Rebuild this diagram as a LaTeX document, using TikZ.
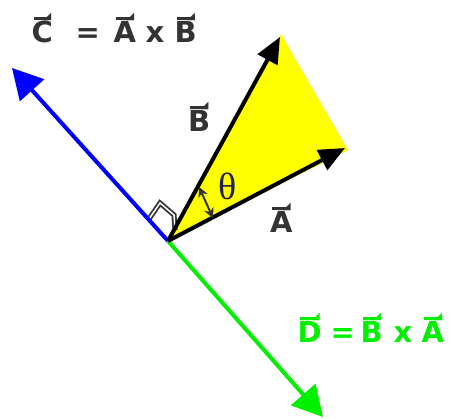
\documentclass[tikz,border=0pt]{standalone}
\usepackage{fontspec}
\usepackage{graphicx}
\setmainfont{DejaVu Sans}
\newfontfamily\arrowfont{DejaVu Sans}
\newfontfamily\thetafont{Liberation Serif}
\usetikzlibrary{arrows.meta}
\definecolor{txtgray}{HTML}{333333}
\definecolor{vgreen}{HTML}{00F000}
\definecolor{vblue}{HTML}{0000FF}
\definecolor{vyellow}{HTML}{FFFF00}
\definecolor{thetablue}{HTML}{20204A}
\newsavebox\vecbox
\newcommand\vecl[1]{\leavevmode\sbox\vecbox{#1}\rlap{\hbox to\wd\vecbox{\hss\raisebox{0.8em}{\rule{0.8\wd\vecbox}{2.8pt}\llap{\raisebox{0.6pt}{\fontsize{10}{10}\selectfont\arrowfont ◢}\kern-0.5pt}}\hss}}\usebox\vecbox}
\newcommand\at[2]{\rlap{\hspace{#1pt}#2}}
\begin{document}
\begin{tikzpicture}[x=1pt,y=-1pt,
  vecline/.style={line width=4pt},
  bighead/.style={-{Triangle[length=30pt,width=32pt]}},
  blackhead/.style={-{Triangle[length=26pt,width=22pt]}},
  lbl/.style={font=\fontsize{29}{29}\selectfont\bfseries, inner sep=0pt, anchor=base west},
  marker/.style={draw=txtgray, line width=1.8pt, double=white, double distance=1.5pt}]
\useasboundingbox (0,0) rectangle (450,419);
\coordinate (O) at (168,241);
\coordinate (Atip) at (345,148);
\coordinate (Btip) at (280,37);
\coordinate (Ctip) at (12,68);
\coordinate (Dtip) at (323,417);
\coordinate (TB) at (199,187);
\coordinate (TA) at (213,218);
\coordinate (M1) at (149,219);
\coordinate (M2) at (160,203);
\coordinate (M3) at (174,215);
\coordinate (M4) at (175,230);
\fill[vyellow] (O) -- (281,34) -- (348,150) -- cycle;
\draw[marker] (M1) -- (M2) -- (M3) -- (M4);
\draw[vecline, vblue, bighead] (O) -- (Ctip);
\draw[vecline, vgreen, bighead] (O) -- (Dtip);
\draw[vecline, black, blackhead] (O) -- (Atip);
\draw[vecline, black, blackhead] (O) -- (Btip);
\draw[txtgray, line width=2pt, {Stealth[length=10pt,width=10pt]}-{Stealth[length=10pt,width=10pt]}] (TB) -- (TA);
\node[text=thetablue, font=\thetafont\fontsize{38}{38}\selectfont, inner sep=0pt] (theta) at (228,186) {θ};
\node[lbl, text=txtgray] (labB) at (188,132) {\vecl{B}};
\node[lbl, text=txtgray] (labA) at (270,233) {\vecl{A}};
\node[lbl, text=txtgray] (labC) at (31,43) {\at{0}{\vecl{C}}\at{44}{=}\at{82}{\vecl{A}}\at{114}{x}\at{143}{\vecl{B}}\hspace{168pt}};
\node[lbl, text=vgreen] (labD) at (297,343) {\at{0}{\vecl{D}}\at{33}{=}\at{63}{\vecl{B}}\at{96}{x}\at{124}{\vecl{A}}\hspace{150pt}};
\end{tikzpicture}
\end{document}
